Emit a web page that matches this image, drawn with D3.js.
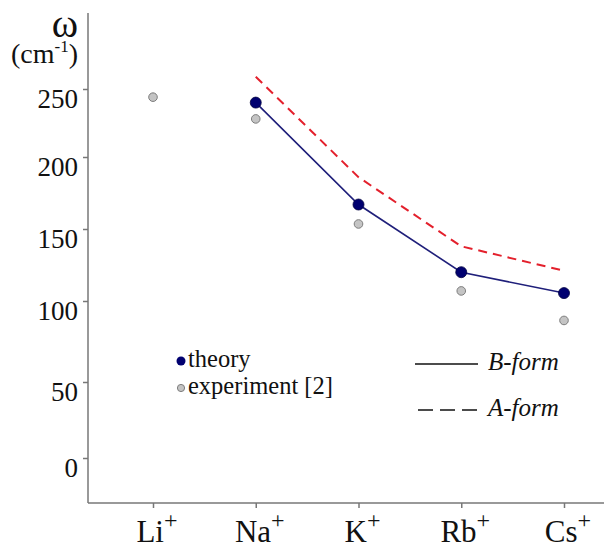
<!DOCTYPE html>
<html>
<head>
<meta charset="utf-8">
<script src="https://cdn.jsdelivr.net/npm/d3@7"></script>
<style>
  body { margin: 0; background: #fff; }
  .axis path.domain { display: none; }
  .axis line { stroke: #777; stroke-width: 1.5; }
  .axis-line { stroke: #777; stroke-width: 1.5; }
</style>
</head>
<body>
<svg></svg>
<script>
'use strict';

// ions on x axis, superscript charge kept apart
var IONS = ['Li', 'Na', 'K', 'Rb', 'Cs'];
var CHARGE = '+';
var Y_TICKS = [0, 50, 100, 150, 200, 250];

// omega, cm-1
var THEORY = [null, 240, 167, 120, 105.5];        // B-form, dark dots + solid line
var EXPERIMENT = [244, 228, 153.5, 107, 88];     // grey dots
var A_FORM = [null, 259, 186, 138, 121];         // red dashed line

var FONT = "'Liberation Serif', 'Times New Roman', 'DejaVu Serif', serif";
var width = 604, height = 546;
var axisX = 88, axisY = 503;

var svg = d3.select('svg').attr('width', width).attr('height', height)
  .attr('font-family', FONT);

// the printed y axis is not quite even, so map each tick where it sits
var yScale = d3.scaleLinear().domain(Y_TICKS).range([458, 382, 301, 229, 157, 89]);
var xScale = d3.scalePoint().domain(IONS).range([153, 564]);

function pts(arr) {
  return IONS.map(function (d, i) { return { ion: d, v: arr[i] }; })
    .filter(function (d) { return d.v != null; });
}

function txt(sel) {
  return sel.attr('font-family', FONT).attr('fill', '#111');
}

// axes
svg.append('line').attr('class', 'axis-line')
  .attr('x1', axisX).attr('x2', axisX).attr('y1', 13).attr('y2', axisY);
svg.append('line').attr('class', 'axis-line')
  .attr('x1', axisX).attr('x2', width).attr('y1', axisY).attr('y2', axisY);

var ya = svg.append('g').attr('class', 'axis y')
  .attr('transform', 'translate(' + axisX + ',0)')
  .call(d3.axisLeft(yScale).tickValues(Y_TICKS).tickSize(5).tickPadding(5));
ya.attr('font-family', FONT);
txt(ya.selectAll('text')).attr('font-size', 27).attr('dy', '0.68em');

var xa = svg.append('g').attr('class', 'axis x')
  .attr('transform', 'translate(0,' + axisY + ')')
  .call(d3.axisBottom(xScale).tickSize(5).tickFormat(''));

var xl = txt(svg.append('g').selectAll('text').data(IONS).enter().append('text'))
  .attr('x', function (d) { return xScale(d) + 4; })
  .attr('y', 542)
  .attr('text-anchor', 'middle')
  .attr('font-size', 31);
xl.append('tspan').text(function (d) { return d; });
xl.append('tspan').attr('font-size', 24).attr('dy', -14).text(CHARGE);

// y label
txt(svg.append('text')).attr('x', 78).attr('y', 37).attr('text-anchor', 'end')
  .attr('font-size', 40).text('ω');
var yl = txt(svg.append('text')).attr('x', 78).attr('y', 63).attr('text-anchor', 'end')
  .attr('font-size', 28);
yl.append('tspan').text('(cm');
yl.append('tspan').attr('font-size', 17).attr('dy', -11).text('-1');
yl.append('tspan').attr('dy', 11).text(')');

// lines
var line = d3.line()
  .x(function (d) { return xScale(d.ion); })
  .y(function (d) { return yScale(d.v); });

svg.append('path').datum(pts(A_FORM))
  .attr('d', line).attr('fill', 'none')
  .attr('stroke', '#e3202c').attr('stroke-width', 2)
  .attr('stroke-dasharray', '9,6');

svg.append('path').datum(pts(THEORY))
  .attr('d', line).attr('fill', 'none')
  .attr('stroke', '#1f1f7a').attr('stroke-width', 1.6);

// dots
svg.append('g').selectAll('circle').data(pts(EXPERIMENT)).enter().append('circle')
  .attr('cx', function (d) { return xScale(d.ion); })
  .attr('cy', function (d) { return yScale(d.v); })
  .attr('r', 4.3)
  .attr('fill', '#c4c4c4').attr('stroke', '#7d7d7d').attr('stroke-width', 1);

svg.append('g').selectAll('circle').data(pts(THEORY)).enter().append('circle')
  .attr('cx', function (d) { return xScale(d.ion); })
  .attr('cy', function (d) { return yScale(d.v); })
  .attr('r', 5.5)
  .attr('fill', '#000070').attr('stroke', '#000040').attr('stroke-width', 0.8);

// legend
var lg = svg.append('g');
lg.append('circle').attr('cx', 181).attr('cy', 361).attr('r', 4.5).attr('fill', '#000070');
lg.append('circle').attr('cx', 181).attr('cy', 388).attr('r', 3.6)
  .attr('fill', '#c4c4c4').attr('stroke', '#7d7d7d');
txt(lg.append('text')).attr('x', 188).attr('y', 367).attr('font-size', 24.5).text('theory');
txt(lg.append('text')).attr('x', 188).attr('y', 394).attr('font-size', 24.5).text('experiment [2]');

lg.append('line').attr('x1', 415).attr('x2', 478).attr('y1', 364).attr('y2', 364)
  .attr('stroke', '#111').attr('stroke-width', 1.6);
lg.append('line').attr('x1', 418).attr('x2', 480).attr('y1', 410).attr('y2', 410)
  .attr('stroke', '#111').attr('stroke-width', 1.6).attr('stroke-dasharray', '15,7');
txt(lg.append('text')).attr('x', 488).attr('y', 370).attr('font-size', 25)
  .attr('font-style', 'italic').text('B-form');
txt(lg.append('text')).attr('x', 488).attr('y', 416).attr('font-size', 25)
  .attr('font-style', 'italic').text('A-form');
</script>
</body>
</html>
